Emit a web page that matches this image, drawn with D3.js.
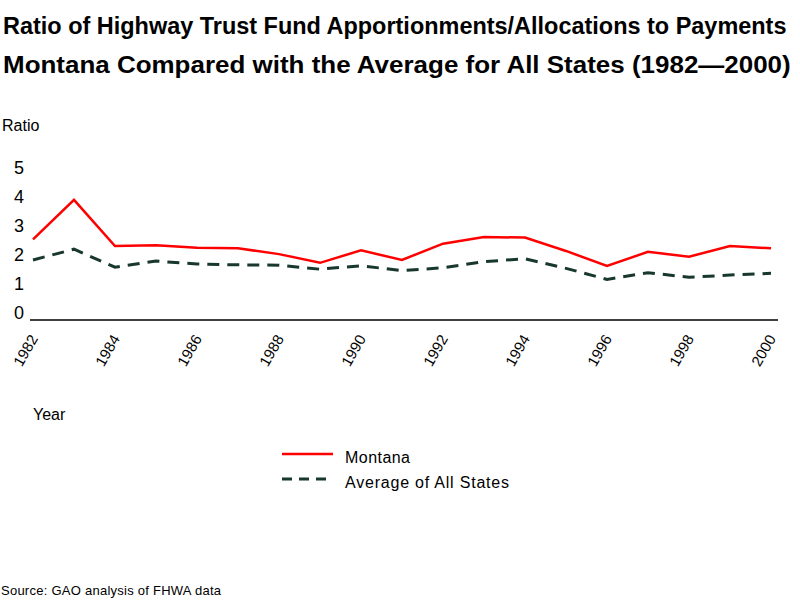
<!DOCTYPE html>
<html>
<head>
<meta charset="utf-8">
<script src="https://cdn.jsdelivr.net/npm/d3@7"></script>
<style>
  body { margin: 0; background: #fff; }
  text { font-family: "Liberation Sans", Arial, sans-serif; }
</style>
</head>
<body>
<svg id="chart" width="800" height="600"></svg>
<script>
const years = d3.range(1982, 2001);
const montana = [2.54, 3.9, 2.31, 2.34, 2.25, 2.23, 2.03, 1.73, 2.16, 1.83,
                 2.39, 2.62, 2.6, 2.14, 1.62, 2.11, 1.94, 2.31, 2.23];
const avgAll = [1.83, 2.2, 1.58, 1.79, 1.69, 1.66, 1.65, 1.51, 1.63, 1.46,
                1.56, 1.77, 1.87, 1.54, 1.16, 1.39, 1.23, 1.31, 1.37];
const yTicks = [0, 1, 2, 3, 4, 5];
const xTicks = [1982, 1984, 1986, 1988, 1990, 1992, 1994, 1996, 1998, 2000];

const svg = d3.select('#chart');

// title: narrow font feel by scaling a smaller font taller
const titleLines = [
  'Ratio of Highway Trust Fund Apportionments/Allocations to Payments',
  'Montana Compared with the Average for All States (1982\u20142000)'
];
const titleWidths = [784, 788];
svg.selectAll('.title')
  .data(titleLines)
  .enter()
  .append('text')
  .attr('class', 'title')
  .attr('font-size', '20px')
  .attr('font-weight', 'bold')
  .text(d => d)
  .attr('transform', function(d, i) {
    const w = this.getComputedTextLength();
    return `translate(3,${34 + i * 39}) scale(${titleWidths[i] / w},1.22)`;
  });

// scales
const x = d3.scaleLinear().domain([1982, 2000]).range([33, 771]);
const y = d3.scaleLinear().domain([0, 5]).range([313, 168]);

// y axis labels (no line)
const yAxis = svg.append('g')
  .attr('transform', 'translate(24,0)')
  .call(d3.axisLeft(y).tickValues(yTicks).tickSize(0).tickPadding(0).tickFormat(d3.format('d')));
yAxis.select('.domain').remove();
yAxis.selectAll('text')
  .attr('font-size', '18px')
  .attr('font-family', '"Liberation Sans", Arial, sans-serif')
  .attr('fill', '#000');

svg.append('text')
  .attr('x', 2).attr('y', 131)
  .attr('font-size', '16px')
  .text('Ratio');

// x axis line
svg.append('line')
  .attr('x1', 30).attr('x2', 778)
  .attr('y1', 320).attr('y2', 320)
  .attr('stroke', '#000').attr('stroke-width', 1.5);

// x tick labels rotated
svg.selectAll('.xlab')
  .data(xTicks)
  .enter()
  .append('text')
  .attr('class', 'xlab')
  .attr('transform', d => `translate(${x(d) - 3},${353}) rotate(-60)`)
  .attr('text-anchor', 'middle')
  .attr('font-size', '15px')
  .text(d => d);

svg.append('text')
  .attr('x', 33).attr('y', 420)
  .attr('font-size', '16px')
  .text('Year');

// lines
const line = d3.line()
  .x((d, i) => x(years[i]))
  .y(d => y(d));

svg.append('path')
  .datum(avgAll)
  .attr('d', line)
  .attr('fill', 'none')
  .attr('stroke', '#17382a')
  .attr('stroke-width', 3)
  .attr('stroke-dasharray', '12,8');

svg.append('path')
  .datum(montana)
  .attr('d', line)
  .attr('fill', 'none')
  .attr('stroke', '#ff0000')
  .attr('stroke-width', 2.5);

// legend
const legend = [
  { name: 'Montana', color: '#ff0000', dash: null, w: 2.5, len: 65 },
  { name: 'Average of All States', color: '#17382a', dash: '10,7', w: 3, len: 164 }
];
const lg = svg.selectAll('.legend')
  .data(legend)
  .enter()
  .append('g')
  .attr('class', 'legend')
  .attr('transform', (d, i) => `translate(282,${454 + i * 25})`);
lg.append('line')
  .attr('x1', 0).attr('x2', 51)
  .attr('stroke', d => d.color)
  .attr('stroke-width', d => d.w)
  .attr('stroke-dasharray', d => d.dash);
lg.append('text')
  .attr('x', 63).attr('y', 9)
  .attr('font-size', '16px')
  .attr('textLength', d => d.len)
  .attr('lengthAdjust', 'spacing')
  .text(d => d.name);

// source
svg.append('text')
  .attr('x', 1).attr('y', 595)
  .attr('font-size', '13px')
  .attr('textLength', 220)
  .attr('lengthAdjust', 'spacing')
  .text('Source: GAO analysis of FHWA data');
</script>
</body>
</html>
